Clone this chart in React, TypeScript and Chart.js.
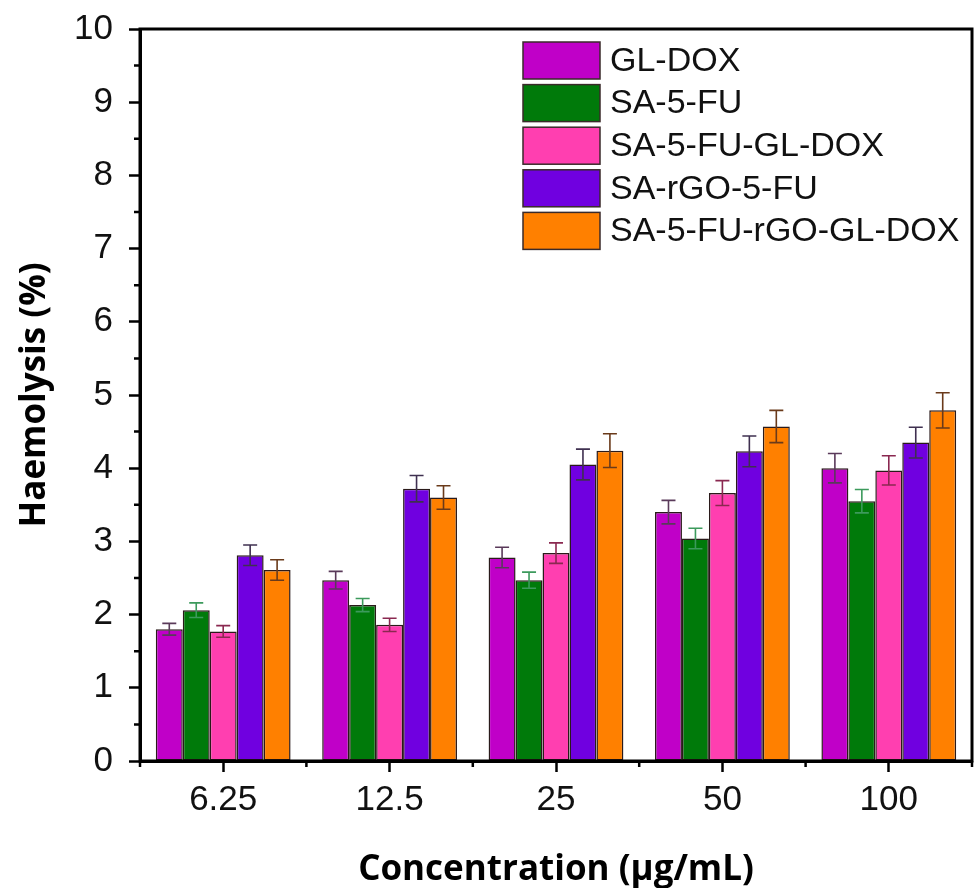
import React, { useEffect, useRef } from 'react';
import { Chart, registerables } from 'chart.js';
Chart.register(...registerables);

const categories = ['6.25', '12.5', '25', '50', '100'];
const seriesNames = ['GL-DOX', 'SA-5-FU', 'SA-5-FU-GL-DOX', 'SA-rGO-5-FU', 'SA-5-FU-rGO-GL-DOX'];
const glDox = [1.80, 2.47, 2.78, 3.40, 4.00];
const glDoxErr = [0.08, 0.12, 0.14, 0.16, 0.20];
const sa5fu = [2.06, 2.13, 2.47, 3.04, 3.55];
const sa5fuErr = [0.10, 0.09, 0.11, 0.14, 0.16];
const sa5fuGlDox = [1.77, 1.86, 2.84, 3.66, 3.97];
const sa5fuGlDoxErr = [0.08, 0.09, 0.14, 0.17, 0.20];
const saRgo5fu = [2.81, 3.72, 4.05, 4.23, 4.35];
const saRgo5fuErr = [0.14, 0.18, 0.21, 0.21, 0.21];
const sa5fuRgoGlDox = [2.61, 3.60, 4.24, 4.57, 4.79];
const sa5fuRgoGlDoxErr = [0.14, 0.16, 0.23, 0.22, 0.24];
const yTicks = [0, 1, 2, 3, 4, 5, 6, 7, 8, 9, 10];

const fillColors = ['#c000c8', '#007a0a', '#ff3fb0', '#7000e0', '#ff8000'];
const errColors = ['#5a3a5a', '#3c9a5c', '#8a2850', '#3f3050', '#6a3a1a'];

const TICK_FONT = '"Liberation Sans", Arial, sans-serif';
const TITLE_FONT = '"Open Sans", "Noto Sans", sans-serif';

const errorBarPlugin = {
  id: 'errorBars',
  afterDatasetsDraw(chart: any) {
    const ctx = chart.ctx;
    const yScale = chart.scales.y;
    chart.data.datasets.forEach((ds: any, di: number) => {
      const meta = chart.getDatasetMeta(di);
      meta.data.forEach((bar: any, i: number) => {
        const v = ds.data[i];
        const e = ds.errors[i];
        const x = bar.x;
        const yTop = yScale.getPixelForValue(v + e);
        const yBot = yScale.getPixelForValue(v - e);
        ctx.save();
        ctx.strokeStyle = ds.errorColor;
        ctx.lineWidth = 1.6;
        ctx.beginPath();
        ctx.moveTo(x, yTop);
        ctx.lineTo(x, yBot);
        ctx.moveTo(x - 7, yTop);
        ctx.lineTo(x + 7, yTop);
        ctx.moveTo(x - 7, yBot);
        ctx.lineTo(x + 7, yBot);
        ctx.stroke();
        ctx.restore();
      });
    });
  },
};

const framePlugin = {
  id: 'frameAndMinor',
  afterDraw(chart: any) {
    const ctx = chart.ctx;
    const { left, right, top, bottom } = chart.chartArea;
    const yScale = chart.scales.y;
    ctx.save();
    ctx.strokeStyle = '#000';
    ctx.lineWidth = 2.5;
    ctx.beginPath();
    for (let v = 0.5; v < 10; v += 1) {
      const y = yScale.getPixelForValue(v);
      ctx.moveTo(left, y);
      ctx.lineTo(left - 6, y);
    }
    const n = categories.length;
    for (let i = 0; i <= n; i++) {
      const x = left + ((right - left) * i) / n;
      ctx.moveTo(x, bottom);
      ctx.lineTo(x, bottom + 6);
    }
    ctx.stroke();
    ctx.lineWidth = 3;
    ctx.strokeRect(left, top, right - left, bottom - top);
    ctx.restore();
  },
};

const legendPlugin = {
  id: 'insideLegend',
  afterDraw(chart: any) {
    const ctx = chart.ctx;
    const x0 = 523;
    const y0 = 42;
    const pitch = 42.6;
    const w = 77;
    const h = 37;
    ctx.save();
    chart.data.datasets.forEach((ds: any, i: number) => {
      const y = y0 + i * pitch;
      ctx.fillStyle = ds.backgroundColor;
      ctx.fillRect(x0, y, w, h);
      ctx.strokeStyle = '#3a2a2a';
      ctx.lineWidth = 1.5;
      ctx.strokeRect(x0, y, w, h);
      ctx.fillStyle = '#111';
      ctx.font = `34px ${TICK_FONT}`;
      ctx.textBaseline = 'middle';
      ctx.textAlign = 'left';
      ctx.fillText(ds.label, x0 + 87, y + h / 2 + 1);
    });
    ctx.restore();
  },
};

export default function App() {
  const ref = useRef<HTMLCanvasElement>(null);
  useEffect(() => {
    document.body.style.margin = '0';
    const values = [glDox, sa5fu, sa5fuGlDox, saRgo5fu, sa5fuRgoGlDox];
    const errs = [glDoxErr, sa5fuErr, sa5fuGlDoxErr, saRgo5fuErr, sa5fuRgoGlDoxErr];
    const chart = new Chart(ref.current as HTMLCanvasElement, {
      type: 'bar',
      data: {
        labels: categories,
        datasets: seriesNames.map((name, i) => ({
          label: name,
          data: values[i],
          errors: errs[i],
          errorColor: errColors[i],
          backgroundColor: fillColors[i],
          borderColor: '#2a1a1a',
          borderWidth: 1.5,
          borderSkipped: false,
          categoryPercentage: 0.81,
          barPercentage: 1.0,
        })) as any,
      },
      options: {
        responsive: false,
        animation: false,
        layout: { padding: { top: 29, right: 5, left: 0, bottom: 0 } },
        plugins: {
          legend: { display: false },
          tooltip: { enabled: false },
        },
        scales: {
          x: {
            type: 'category',
            grid: {
              display: true,
              drawOnChartArea: false,
              drawTicks: true,
              offset: false,
              tickLength: 11,
              tickWidth: 2.5,
              tickColor: '#000',
            },
            border: { display: true, color: '#000', width: 3 },
            ticks: {
              color: '#111',
              font: { family: TICK_FONT, size: 35 },
              padding: 7,
              maxRotation: 0,
            },
            title: {
              display: true,
              text: 'Concentration (µg/mL)',
              color: '#000',
              font: { family: TITLE_FONT, size: 35, weight: 'bold', lineHeight: 1.05 },
              padding: { top: 0, bottom: 0 },
            },
            afterFit(scale: any) {
              scale.height = 888 - 761;
              scale.paddingLeft = 0;
              scale.paddingRight = 0;
            },
          },
          y: {
            min: 0,
            max: 10,
            grid: {
              display: true,
              drawOnChartArea: false,
              drawTicks: true,
              tickLength: 11,
              tickWidth: 2.5,
              tickColor: '#000',
            },
            border: { display: true, color: '#000', width: 3 },
            ticks: {
              stepSize: 1,
              color: '#111',
              font: { family: TICK_FONT, size: 35 },
              padding: 16,
              callback: (v: any) => (yTicks.includes(Number(v)) ? String(v) : ''),
            },
            title: {
              display: true,
              text: 'Haemolysis (%)',
              color: '#000',
              font: { family: TITLE_FONT, size: 35, weight: 'bold' },
              padding: { top: 14, bottom: 0 },
            },
            afterFit(scale: any) {
              scale.width = 140;
              scale.paddingTop = 0;
              scale.paddingBottom = 0;
            },
          },
        },
      } as any,
      plugins: [errorBarPlugin, framePlugin, legendPlugin],
    });
    return () => chart.destroy();
  }, []);
  return (
    <div style={{ width: 977, height: 888 }}>
      <canvas ref={ref} width={977} height={888} style={{ display: 'block' }} />
    </div>
  );
}
